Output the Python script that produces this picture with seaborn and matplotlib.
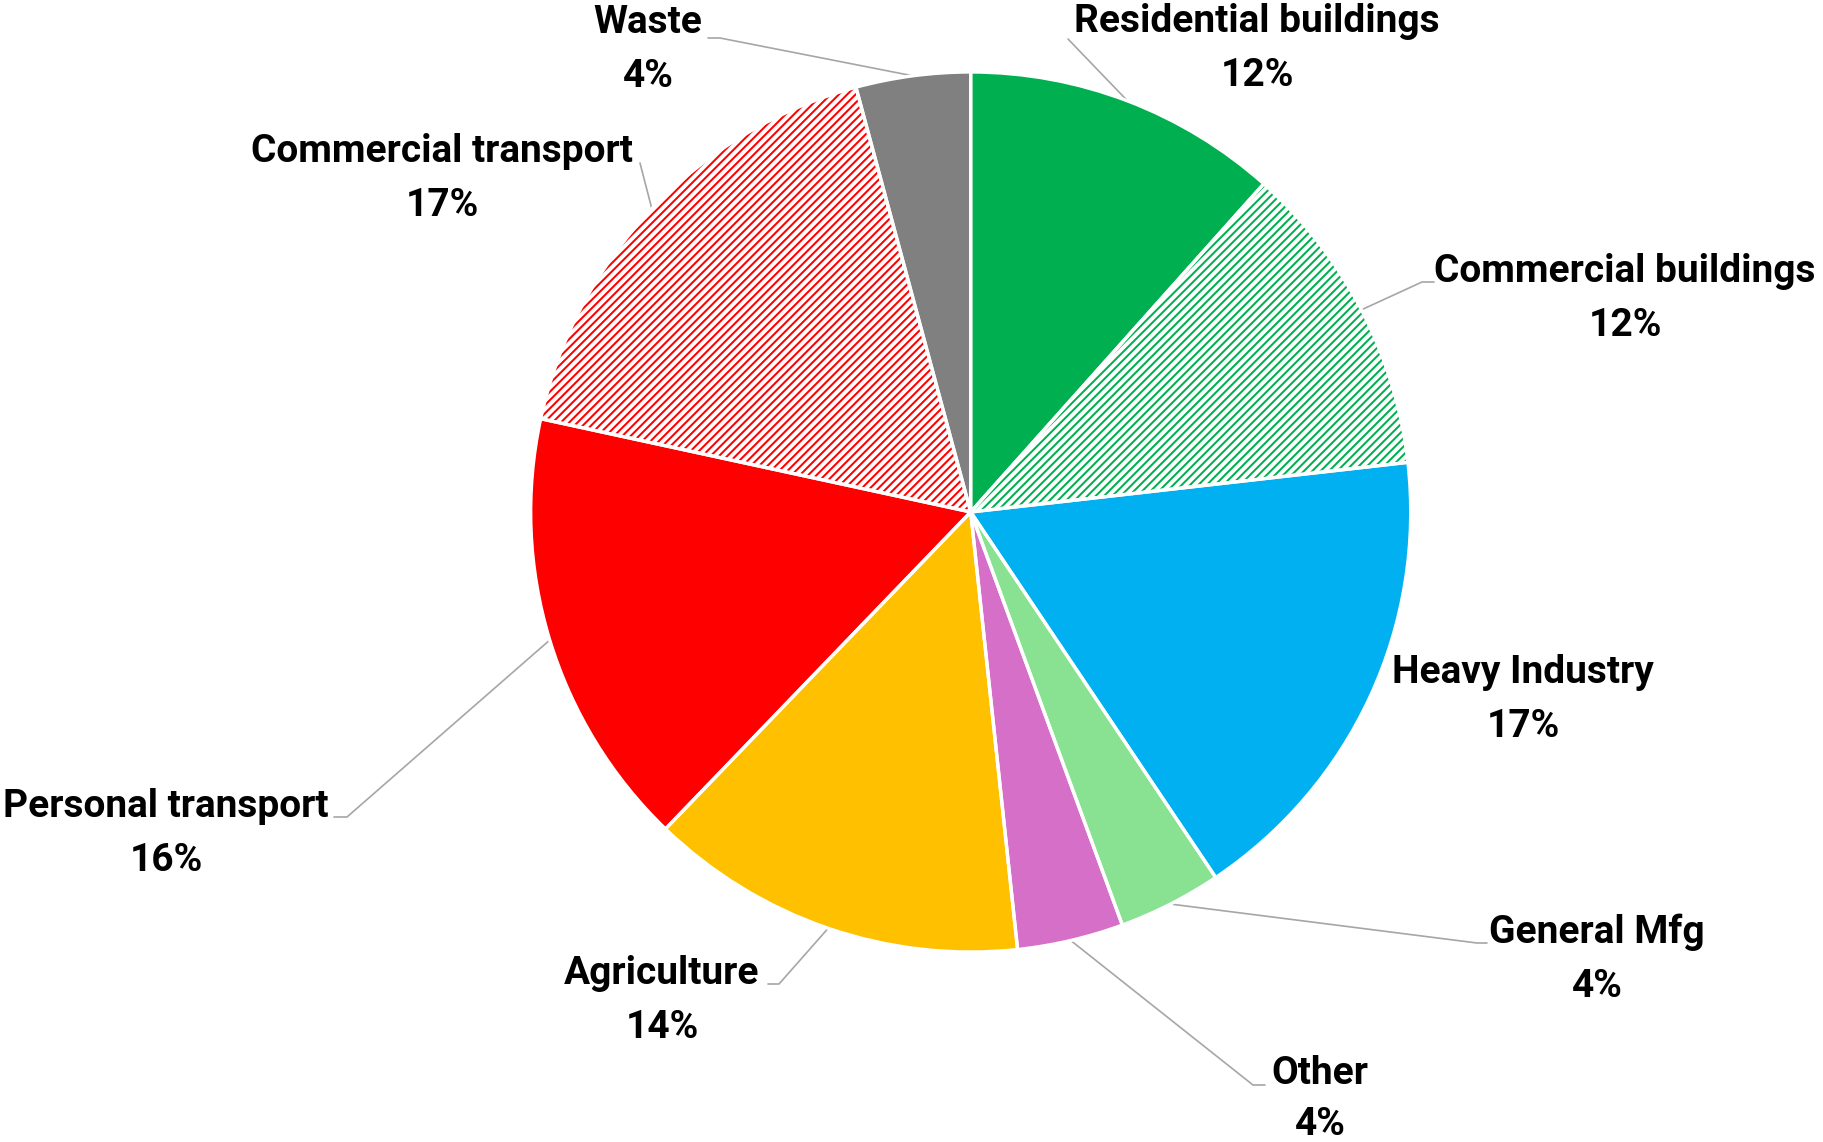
import matplotlib
matplotlib.use("Agg")
import matplotlib.pyplot as plt
import seaborn as sns
import numpy as np

# Emission shares by sector (percent), clockwise from 12 o'clock
sectors = ["Residential buildings", "Commercial buildings", "Heavy Industry",
           "General Mfg", "Other", "Agriculture", "Personal transport",
           "Commercial transport", "Waste"]
shares = [11.6, 11.6, 17.4, 3.8, 3.9, 13.9, 16.2, 17.4, 4.2]
colors = ["#00B050", "#00B050", "#00B0F0", "#88E292", "#D66FC8",
          "#FFC000", "#FF0000", "#FF0000", "#808080"]
hatched = [False, True, False, False, False, False, False, True, False]

W, H = 1824, 1142          # canvas in pixels
CX, CY, R = 970.7, 512, 440  # pie centre / radius in pixels (y from top)

# label centre x, first-line baseline y, second-line baseline y (pixels from top)
label_pos = {
    "Residential buildings": (1257, 32, 86),
    "Commercial buildings": (1625, 282, 336),
    "Heavy Industry": (1523, 683, 737),
    "General Mfg": (1597, 943, 997),
    "Other": (1320, 1084, 1135),
    "Agriculture": (662, 984, 1038),
    "Personal transport": (166, 817, 871),
    "Commercial transport": (442, 162, 216),
    "Waste": (648, 33, 87),
}
# leader-line bend / end points (pixels from top); start is on the wedge rim
leader_pts = {
    "Residential buildings": [(1068, 39)],
    "Commercial buildings": [(1422, 282), (1434, 282)],
    "General Mfg": [(1477, 943), (1487, 943)],
    "Other": [(1253, 1085), (1265, 1085)],
    "Agriculture": [(779, 984), (768, 984)],
    "Personal transport": [(347, 817), (334, 817)],
    "Commercial transport": [(640, 163)],
    "Waste": [(720, 38), (708, 38)],
}

sns.set_theme(style="white")
plt.rcParams["font.family"] = ["Roboto", "DejaVu Sans"]
plt.rcParams["hatch.linewidth"] = 1.45

fig = plt.figure(figsize=(W / 100, H / 100), dpi=100)
ax = fig.add_axes([0, 0, 1, 1])


def fy(y):
    return H - y


# filled / hatched wedges
wedges, _ = ax.pie(shares, colors=colors, startangle=90, counterclock=False,
                   center=(CX, fy(CY)), radius=R,
                   wedgeprops=dict(linewidth=0))
for w, c, h in zip(wedges, colors, hatched):
    if h:
        w.set_facecolor("white")
        w.set_edgecolor(c)
        w.set_hatch("////")
        w.set_linewidth(0)

# white separators on top
ax.pie(shares, colors=["none"] * len(shares), startangle=90, counterclock=False,
       center=(CX, fy(CY)), radius=R,
       wedgeprops=dict(linewidth=2.4, edgecolor="white", facecolor="none"))

for w, name, v in zip(wedges, sectors, shares):
    x, y1, y2 = label_pos[name]
    ax.text(x, fy(y1), name, ha="center", va="baseline",
            fontsize=28, fontweight="bold", color="black")
    ax.text(x, fy(y2), f"{v:.0f}%", ha="center", va="baseline",
            fontsize=28, fontweight="bold", color="black")
    if name in leader_pts:
        mid = np.deg2rad((w.theta1 + w.theta2) / 2)
        sx = CX + R * np.cos(mid)
        sy = fy(CY) + R * np.sin(mid)
        xs = [sx] + [p[0] for p in leader_pts[name]]
        ys = [sy] + [fy(p[1]) for p in leader_pts[name]]
        ax.plot(xs, ys, color="#A6A6A6", linewidth=1.2, zorder=0.5)

ax.set_xlim(0, W)
ax.set_ylim(0, H)
ax.set_aspect("auto")
ax.axis("off")

fig.savefig("out.png", dpi=100, facecolor="white")
